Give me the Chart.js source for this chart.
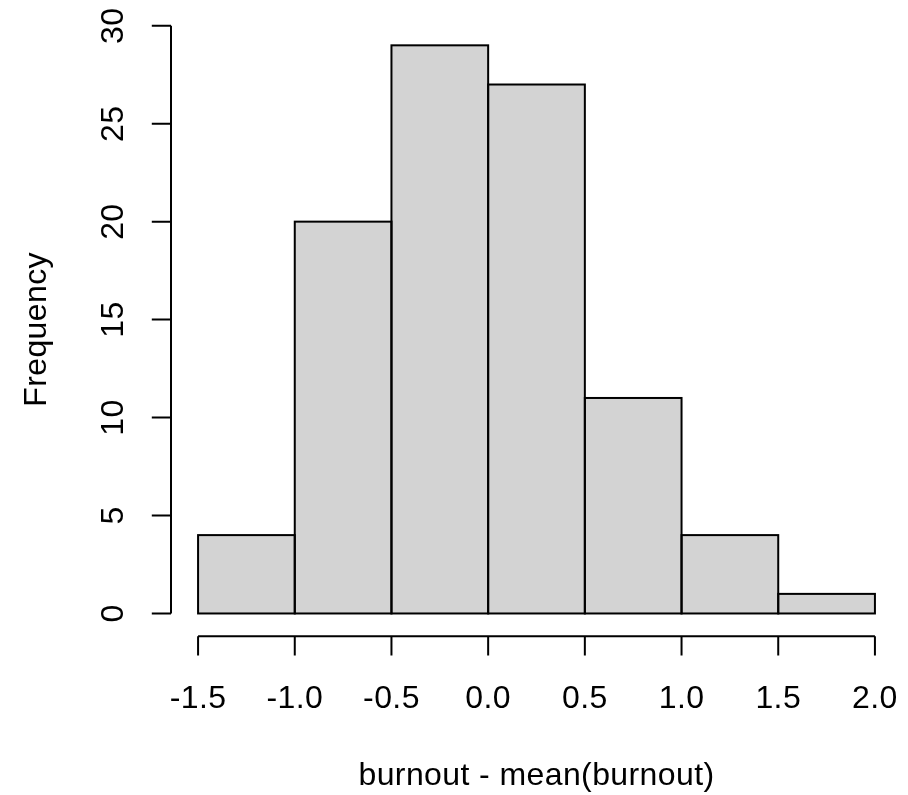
<!DOCTYPE html>
<html>
<head>
<meta charset="utf-8">
<title>Histogram of burnout - mean(burnout)</title>
<script src="https://cdn.jsdelivr.net/npm/chart.js@4.4.1/dist/chart.umd.min.js"></script>
<style>
  html, body { margin: 0; padding: 0; background: #fff; }
  #wrap { width: 908px; height: 795px; }
</style>
</head>
<body>
<div id="wrap"><canvas id="hist" width="908" height="795"></canvas></div>
<script>
// histogram breaks and counts
const breaks = [-1.5, -1.0, -0.5, 0.0, 0.5, 1.0, 1.5, 2.0];
const counts = [4, 20, 29, 27, 11, 4, 1];
const xTickLabels = ['-1.5', '-1.0', '-0.5', '0.0', '0.5', '1.0', '1.5', '2.0'];
const yTicks = [0, 5, 10, 15, 20, 25, 30];
const xTitle = 'burnout - mean(burnout)';
const yTitle = 'Frequency';

const FONT = '32px "Liberation Sans", Arial, Helvetica, sans-serif';

const mids = counts.map((c, i) => ({ x: (breaks[i] + breaks[i + 1]) / 2, y: c }));

// R-like axes drawn off the plot region, using the chart's scales
const rAxes = {
    id: 'rAxes',
    afterDatasetsDraw(chart) {
        const { ctx, chartArea: area, scales: { x, y } } = chart;
        const tick = 19.2;
        ctx.save();
        ctx.strokeStyle = '#000';
        ctx.fillStyle = '#000';
        ctx.lineWidth = 2;

        // bar outlines
        chart.getDatasetMeta(0).data.forEach(bar => {
            const p = bar.getProps(['x', 'y', 'base', 'width'], true);
            ctx.strokeRect(p.x - p.width / 2, p.y, p.width, p.base - p.y);
        });

        // x axis
        const x0 = x.getPixelForValue(breaks[0]);
        const x1 = x.getPixelForValue(breaks[breaks.length - 1]);
        const by = area.bottom;
        ctx.beginPath();
        ctx.moveTo(x0, by);
        ctx.lineTo(x1, by);
        breaks.forEach(v => {
            const px = x.getPixelForValue(v);
            ctx.moveTo(px, by);
            ctx.lineTo(px, by + tick);
        });
        ctx.stroke();

        ctx.font = FONT;
        if ('letterSpacing' in ctx) ctx.letterSpacing = '0.4px';
        ctx.textAlign = 'center';
        ctx.textBaseline = 'alphabetic';
        breaks.forEach((v, i) => {
            ctx.fillText(xTickLabels[i], x.getPixelForValue(v), by + 71.5);
        });
        ctx.fillText(xTitle, (area.left + area.right) / 2, by + 149);

        // y axis
        const lx = area.left;
        const y0 = y.getPixelForValue(yTicks[0]);
        const y1 = y.getPixelForValue(yTicks[yTicks.length - 1]);
        ctx.beginPath();
        ctx.moveTo(lx, y0);
        ctx.lineTo(lx, y1);
        yTicks.forEach(v => {
            const py = y.getPixelForValue(v);
            ctx.moveTo(lx, py);
            ctx.lineTo(lx - tick, py);
        });
        ctx.stroke();

        yTicks.forEach(v => {
            ctx.save();
            ctx.translate(lx - 48, y.getPixelForValue(v));
            ctx.rotate(-Math.PI / 2);
            ctx.fillText(String(v), 0, 0);
            ctx.restore();
        });

        ctx.save();
        ctx.translate(lx - 125, (area.top + area.bottom) / 2);
        ctx.rotate(-Math.PI / 2);
        ctx.fillText(yTitle, 0, 0);
        ctx.restore();

        ctx.restore();
    }
};

new Chart(document.getElementById('hist').getContext('2d'), {
    type: 'bar',
    data: {
        datasets: [{
            data: mids,
            backgroundColor: '#d3d3d3',
            borderWidth: 0,
            barPercentage: 1,
            categoryPercentage: 1
        }]
    },
    options: {
        responsive: false,
        animation: false,
        devicePixelRatio: 1,
        layout: { padding: { left: 171, top: 22.6, right: 6, bottom: 158.8 } },
        scales: {
            x: {
                type: 'linear',
                display: false,
                offset: false,
                min: -1.64,
                max: 2.14,
                afterBuildTicks: s => { s.ticks = breaks.map(v => ({ value: v })); }
            },
            y: {
                type: 'linear',
                display: false,
                min: -1.16,
                max: 30.16,
                afterBuildTicks: s => { s.ticks = yTicks.map(v => ({ value: v })); }
            }
        },
        plugins: {
            legend: { display: false },
            tooltip: { enabled: false }
        }
    },
    plugins: [rAxes]
});
</script>
</body>
</html>
